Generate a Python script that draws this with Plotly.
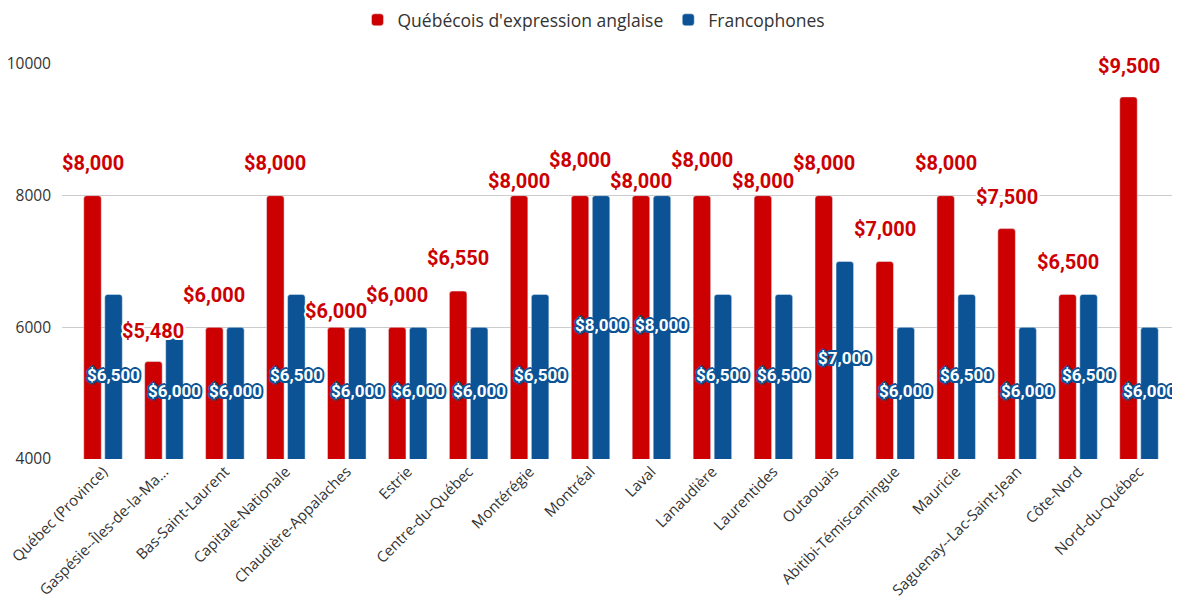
import plotly.graph_objects as go

categories = [
    "Québec (Province)", "Gaspésie--Îles-de-la-Ma...", "Bas-Saint-Laurent",
    "Capitale-Nationale", "Chaudière-Appalaches", "Estrie", "Centre-du-Québec",
    "Montérégie", "Montréal", "Laval", "Lanaudière", "Laurentides", "Outaouais",
    "Abitibi-Témiscamingue", "Mauricie", "Saguenay--Lac-Saint-Jean", "Côte-Nord",
    "Nord-du-Québec",
]
anglo_values = [8000, 5480, 6000, 8000, 6000, 6000, 6550, 8000, 8000, 8000,
                8000, 8000, 8000, 7000, 8000, 7500, 6500, 9500]
franco_values = [6500, 5840, 6000, 6500, 6000, 6000, 6000, 6500, 8000, 8000,
                 6500, 6500, 7000, 6000, 6500, 6000, 6500, 6000]
franco_label_values = [6500, 6000, 6000, 6500, 6000, 6000, 6000, 6500, 8000, 8000,
                       6500, 6500, 7000, 6000, 6500, 6000, 6500, 6000]
series_names = ["Québécois d'expression anglaise", "Francophones"]
y_ticks = [4000, 6000, 8000, 10000]

RED = "#cc0000"
BLUE = "#0b5394"
AXIS_MIN = 4000

# pixel lift of red labels above bar tops (collision avoidance in original)
red_label_lift = [33, 31, 32, 33, 16, 32, 33, 15, 36, 15, 36, 15, 33, 33, 33, 32, 32, 31]

fig = go.Figure()
fig.add_trace(go.Bar(x=list(range(len(categories))), y=anglo_values, name=series_names[0],
                     marker=dict(color=RED), hoverinfo="skip"))
fig.add_trace(go.Bar(x=list(range(len(categories))), y=franco_values, name=series_names[1],
                     marker=dict(color=BLUE), hoverinfo="skip"))

def money(v):
    return "${:,}".format(v)

bar_offset = 0.172  # half distance between the centers of grouped bars (category units)
annotations = []
pts = [(-2, 0), (2, 0), (0, -2), (0, 2), (-1.5, -1.5), (1.5, -1.5), (-1.5, 1.5), (1.5, 1.5)]
red_shadow = ", ".join(f"{dx}px {dy}px 0 #ffffff" for dx, dy in pts)
blue_shadow = ", ".join(f"{dx}px {dy}px 0 {BLUE}" for dx, dy in pts)
for i, v in enumerate(anglo_values):
    annotations.append(dict(
        x=i - bar_offset, y=v, xref="x", yref="y", text=money(v), showarrow=False,
        yanchor="middle", xanchor="center", yshift=red_label_lift[i],
        font=dict(family="Roboto", size=20, color=RED, weight="bold", shadow=red_shadow),
    ))
for i, v in enumerate(franco_label_values):
    annotations.append(dict(
        x=i + bar_offset, y=(v + AXIS_MIN) / 2, xref="x", yref="y", text=money(v), showarrow=False,
        yanchor="middle", xanchor="center", yshift=2,
        font=dict(family="Roboto", size=17, color="#ffffff", weight="bold", shadow=blue_shadow),
    ))

# the page body adds an 8px offset, so the figure is sized to fill the rest of the window
fig.update_layout(
    width=1172, height=596,
    margin=dict(l=54, r=2, t=56, b=145, autoexpand=False),
    paper_bgcolor="white", plot_bgcolor="white",
    barmode="group", bargap=0.31, bargroupgap=0.167, barcornerradius=3,
    font=dict(family="Open Sans", color="#333333"),
    legend=dict(orientation="h", x=0.5, xref="container", xanchor="center",
                y=0.98, yref="container", yanchor="middle",
                font=dict(size=17.5, color="#333333"), itemclick=False),
    annotations=annotations,
    showlegend=True,
)
fig.update_xaxes(
    tickmode="array", tickvals=list(range(len(categories))), ticktext=categories,
    tickangle=-45, range=[-0.673, 17.64], showgrid=False, showline=False, zeroline=False,
    tickfont=dict(size=15, color="#333333"), ticks="", automargin=False,
    ticklabeloverflow="allow",
)
fig.update_yaxes(
    range=[AXIS_MIN, 10000], tickvals=y_ticks, tickformat="d", showgrid=True, gridcolor="#cccccc",
    gridwidth=1, zeroline=False, showline=False, ticks="", ticklabelstandoff=10,
    tickfont=dict(size=15.5, color="#333333"), automargin=False,
)

fig.write_html("out.html")
